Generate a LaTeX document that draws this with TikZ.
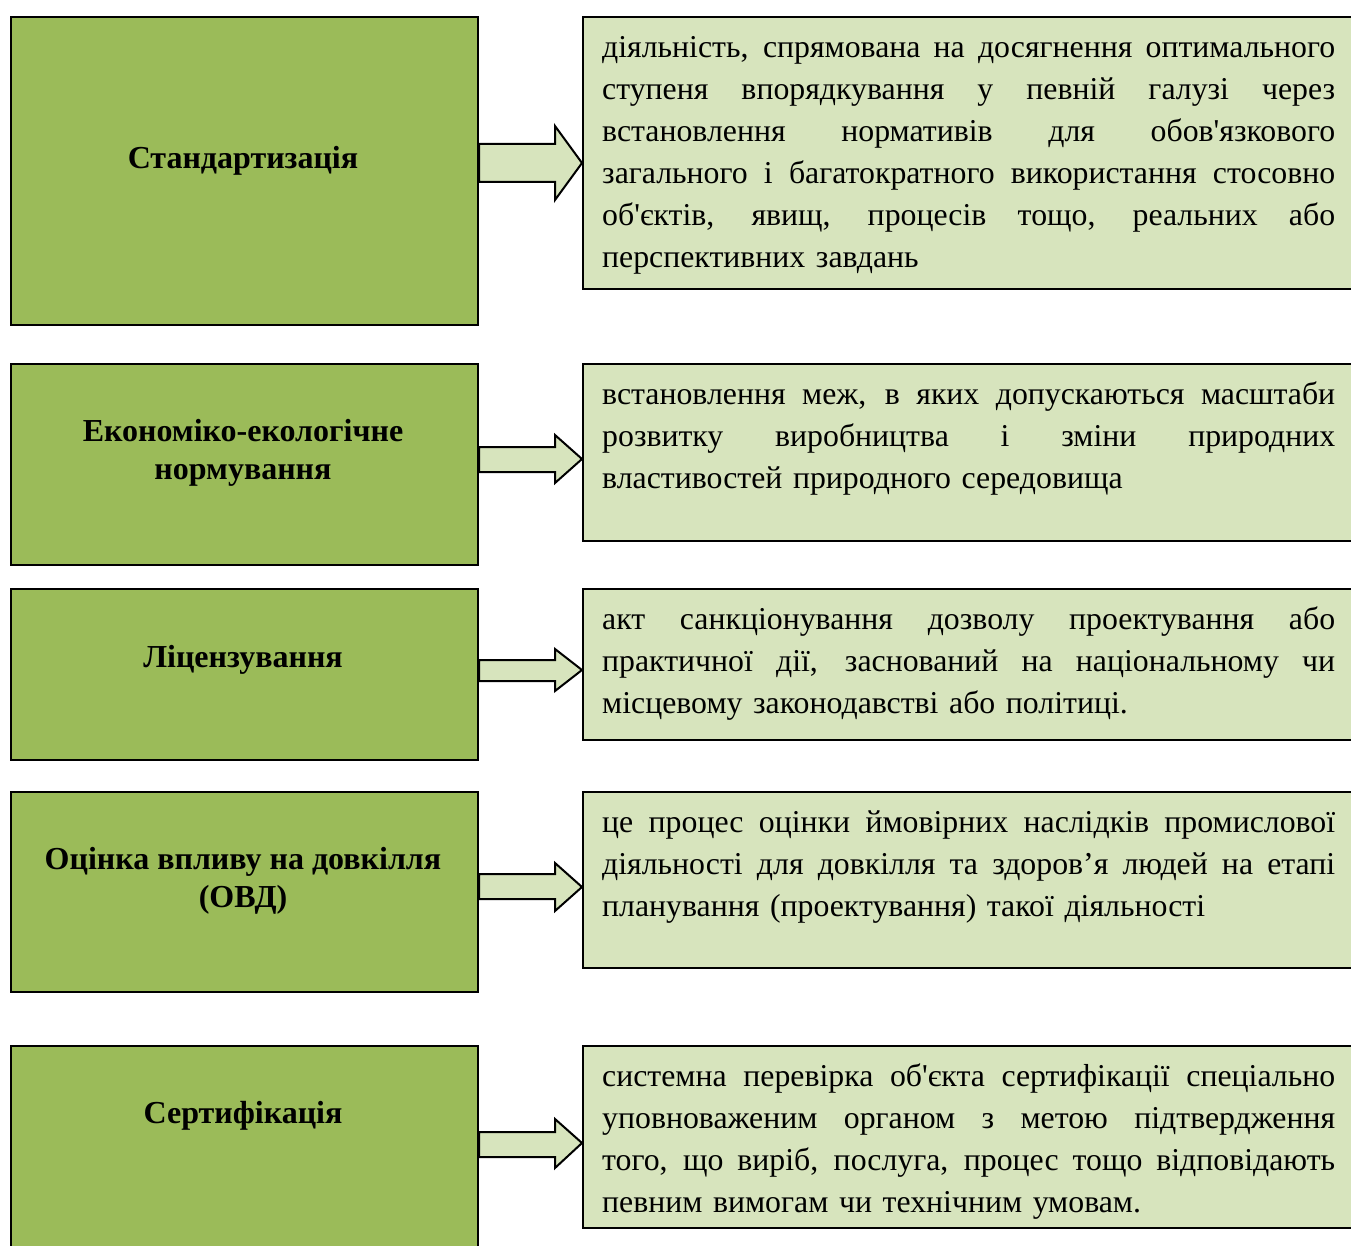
\documentclass[tikz,border=0pt]{standalone}
\usepackage{fontspec}
\setmainfont{Liberation Serif}
\usetikzlibrary{calc}
\definecolor{leftgreen}{HTML}{9BBB59}
\definecolor{lightgreen}{HTML}{D7E4BD}
\newcommand\myjl[1]{\leavevmode\hbox to 733pt{\spaceskip=0.25em plus 1fil minus 0.1em\strut #1}}
\newcommand\mylast[1]{\strut #1}
\newcommand\myaps{\textquotesingle}
\newcommand\blockarr[7]{%
  \draw[arrbody] (#1.east |- 0,#3) -- (555,#3) -- (555,#5) -- (#2.west |- 0,#7) -- (555,#6) -- (555,#4) -- (#1.east |- 0,#4) -- cycle;}
\begin{document}
\begin{tikzpicture}[x=1pt,y=-1pt,
  lbox/.style={draw=black, line width=2pt, fill=leftgreen, inner sep=0pt, anchor=north west},
  rbox/.style={draw=black, line width=2pt, fill=lightgreen, inner sep=0pt, anchor=north west},
  ltext/.style={align=center, inner sep=0pt, font=\fontsize{32}{38}\selectfont\bfseries},
  rtext/.style={align=left, text width=733pt, inner sep=0pt, anchor=north west, font=\fontsize{31.8}{42}\selectfont},
  arrbody/.style={draw=black, line width=2pt, fill=lightgreen, line join=miter}]
\useasboundingbox (0,0) rectangle (1351,1246);
\clip (0,0) rectangle (1351,1246);
\fill[white] (0,0) rectangle (1351,1246);
% boxes
\node[lbox, minimum width=467pt, minimum height=308pt] (L1) at (10,16) {};
\node[rbox, minimum width=780pt, minimum height=272pt] (R1) at (582,16) {};
\node[lbox, minimum width=467pt, minimum height=201pt] (L2) at (10,363) {};
\node[rbox, minimum width=780pt, minimum height=177pt] (R2) at (582,363) {};
\node[lbox, minimum width=467pt, minimum height=171pt] (L3) at (10,588) {};
\node[rbox, minimum width=780pt, minimum height=151pt] (R3) at (582,588) {};
\node[lbox, minimum width=467pt, minimum height=200pt] (L4) at (10,791) {};
\node[rbox, minimum width=780pt, minimum height=176pt] (R4) at (582,791) {};
\node[lbox, minimum width=467pt, minimum height=220pt] (L5) at (10,1045) {};
\node[rbox, minimum width=780pt, minimum height=182pt] (R5) at (582,1045) {};
% arrows
\blockarr{L1}{R1}{144}{182}{126}{200}{163}
\blockarr{L2}{R2}{447}{472}{435}{483}{459}
\blockarr{L3}{R3}{660}{681}{649}{691}{670}
\blockarr{L4}{R4}{874}{899}{863}{911}{887}
\blockarr{L5}{R5}{1132}{1157}{1119}{1168}{1143}
% left labels
\node[ltext] (t1) at (243,161) {Стандартизація};
\node[ltext] (t2) at (243,453) {Економіко-екологічне\\нормування};
\node[ltext] (t3) at (243,660) {Ліцензування};
\node[ltext] (t4) at (243,881) {Оцінка впливу на довкілля\\(ОВД)};
\node[ltext] (t5) at (243,1116) {Сертифікація};
% right texts
\node[rtext] (d1) at (602,28.1) {\myjl{діяльність, спрямована на досягнення оптимального}\\
\myjl{ступеня впорядкування у певній галузі через}\\
\myjl{встановлення нормативів для обов\myaps язкового}\\
\myjl{загального і багатократного використання стосовно}\\
\myjl{об\myaps єктів, явищ, процесів тощо, реальних або}\\
\mylast{перспективних завдань}};
\node[rtext] (d2) at (602,375.1) {\myjl{встановлення меж, в яких допускаються масштаби}\\
\myjl{розвитку виробництва і зміни природних}\\
\mylast{властивостей природного середовища}};
\node[rtext] (d3) at (602,600.1) {\myjl{акт санкціонування дозволу проектування або}\\
\myjl{практичної дії, заснований на національному чи}\\
\mylast{місцевому законодавстві або політиці.}};
\node[rtext] (d4) at (602,803.1) {\myjl{це процес оцінки ймовірних наслідків промислової}\\
\myjl{діяльності для довкілля та здоров’я людей на етапі}\\
\mylast{планування (проектування) такої діяльності}};
\node[rtext] (d5) at (602,1057.1) {\myjl{системна перевірка об\myaps єкта сертифікації спеціально}\\
\myjl{уповноваженим органом з метою підтвердження}\\
\myjl{того, що виріб, послуга, процес тощо відповідають}\\
\mylast{певним вимогам чи технічним умовам.}};
\end{tikzpicture}
\end{document}
